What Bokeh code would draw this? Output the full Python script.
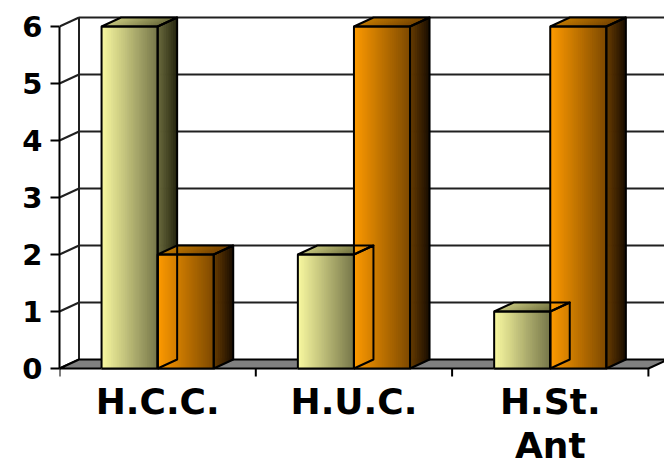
import numpy as np
from bokeh.plotting import figure
from bokeh.models import FixedTicker, Range1d, ColumnDataSource
from bokeh.core.properties import value
from bokeh.embed import file_html
from bokeh.resources import INLINE

# ---------------- data ----------------
categories = ["H.C.C.", "H.U.C.", "H.St.\nAnt"]
series_yellow = [6, 2, 1]
series_orange = [2, 6, 6]
y_ticks = [0, 1, 2, 3, 4, 5, 6]

# ---------------- style ----------------
PX_X = 196.3        # pixels per category
PX_Y = 57.0         # pixels per unit
DX = 19.5 / PX_X    # 3D depth, x data units
DY = 9.0 / PX_Y     # 3D depth, y data units
BAR_W = 2 / 7       # width of one bar (category = 1)
GAP = 3 / 14        # left gap inside a category
N = 28              # strips per gradient face
EDGE = "#000000"

yellow = dict(front=("#fbfba2", "#77774a"), side=("#6e6e40", "#262610"), top=("#c4c47c", "#6c6c3c"))
orange = dict(front=("#ff9b00", "#7e4a00"), side=("#6a3e00", "#1a0e00"), top=("#c07800", "#764400"))


def hex2rgb(h):
    h = h.lstrip("#")
    return np.array([int(h[i:i + 2], 16) for i in (0, 2, 4)], dtype=float)


def lerp(c1, c2, t):
    a, b = hex2rgb(c1), hex2rgb(c2)
    c = a + (b - a) * t
    return "#%02x%02x%02x" % tuple(int(round(v)) for v in c)


W, H = 664, 465
LEFT = 59
ZERO_Y = 368
p = figure(width=W, height=H,
           x_range=Range1d(0, (W - LEFT) / PX_X),
           y_range=Range1d(-(H - ZERO_Y) / PX_Y, ZERO_Y / PX_Y),
           output_backend="svg", toolbar_location=None, x_axis_location=None,
           min_border_left=LEFT, min_border_right=0, min_border_top=0, min_border_bottom=0)
p.outline_line_color = None
p.grid.visible = False
p.background_fill_color = "white"
p.border_fill_color = "white"

ncat = len(categories)
ymax = max(y_ticks)

# ---- walls: gridlines on back wall and left wall ----
gx, gy = [], []
for v in y_ticks:
    if v > 0:
        gx.append([DX, ncat + DX]); gy.append([v + DY, v + DY])
    gx.append([0, DX]); gy.append([v, v + DY])
gx.append([DX, DX]); gy.append([DY, ymax + DY])
p.multi_line(gx, gy, line_color="#202020", line_width=2)

# ---- floor ----
p.patch([0, ncat, ncat + DX, DX], [0, 0, DY, DY], fill_color="#808080",
        line_color=EDGE, line_width=2)

# ---- category boundary ticks ----
bounds = list(range(ncat + 1))
p.segment(x0=bounds, y0=[0] * len(bounds), x1=bounds, y1=[-8 / PX_Y] * len(bounds),
          line_color=EDGE, line_width=2)

# ---- bars ----
pxs, pys, pcols = [], [], []
oxs, oys = [], []


def add_bar(x0, v, sty):
    x1 = x0 + BAR_W
    for k in range(N):
        t0, t1 = k / N, (k + 1) / N
        t1e = min(1.0, t1 + 0.6 / N)
        tc = (k + 0.5) / N
        # front
        xa, xb = x0 + BAR_W * t0, x0 + BAR_W * t1e
        pxs.append([xa, xb, xb, xa]); pys.append([0, 0, v, v])
        pcols.append(lerp(*sty["front"], tc))
        # top
        pxs.append([xa, xb, xb + DX, xa + DX]); pys.append([v, v, v + DY, v + DY])
        pcols.append(lerp(*sty["top"], tc))
        # side
        sa, sb = DX * t0, DX * t1e
        ya, yb = DY * t0, DY * t1e
        pxs.append([x1 + sa, x1 + sb, x1 + sb, x1 + sa])
        pys.append([ya, yb, v + yb, v + ya])
        pcols.append(lerp(*sty["side"], tc))
    oxs.extend([[x0, x1, x1, x0, x0],
                [x0, x1, x1 + DX, x0 + DX, x0],
                [x1, x1 + DX, x1 + DX, x1, x1]])
    oys.extend([[0, 0, v, v, 0],
                [v, v, v + DY, v + DY, v],
                [0, DY, v + DY, v, 0]])


for i in range(ncat):
    add_bar(i + GAP, series_yellow[i], yellow)
    add_bar(i + GAP + BAR_W, series_orange[i], orange)
    src = ColumnDataSource(dict(xs=pxs[:], ys=pys[:], c=pcols[:]))
    p.patches("xs", "ys", source=src, fill_color="c", line_color="c", line_width=0.6)
    p.multi_line(oxs[:], oys[:], line_color=EDGE, line_width=2, line_join="round")
    pxs.clear(); pys.clear(); pcols.clear(); oxs.clear(); oys.clear()

# ---- category labels ----
centers = [i + 0.5 for i in range(ncat)]
p.text(x=centers, y=[-12 / PX_Y] * ncat, text=categories,
       text_font=value("DejaVu Sans"), text_font_style="bold", text_font_size="36px",
       text_align="center", text_baseline="top", text_color="black", text_line_height=1.08)

# ---- y axis ----
ya = p.yaxis[0]
ya.ticker = FixedTicker(ticks=y_ticks, minor_ticks=[])
ya.bounds = (0, ymax)
ya.axis_line_color = EDGE
ya.axis_line_width = 2
ya.major_tick_out = 9
ya.major_tick_in = 0
ya.major_tick_line_width = 2
ya.minor_tick_line_color = None
ya.major_label_standoff = 8
ya.major_label_text_font = "DejaVu Sans"
ya.major_label_text_font_style = "bold"
ya.major_label_text_font_size = "29px"
ya.major_label_text_color = "black"

open("out.html", "w").write(file_html(p, INLINE))
